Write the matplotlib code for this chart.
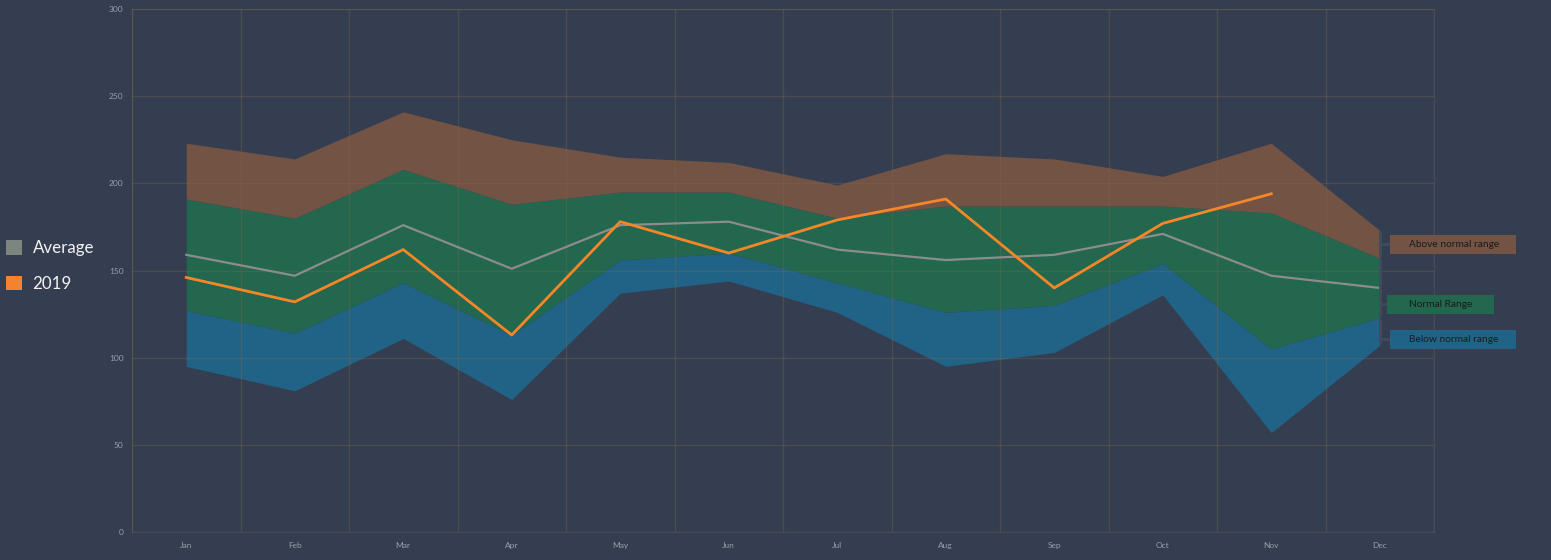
import matplotlib
matplotlib.use('Agg')
import numpy as np
from matplotlib import pyplot as plt
from matplotlib.patches import Patch, Rectangle

# ---- data ----
months = ['Jan', 'Feb', 'Mar', 'Apr', 'May', 'Jun',
          'Jul', 'Aug', 'Sep', 'Oct', 'Nov', 'Dec']
below_low = [95, 81, 111, 76, 137, 144, 126, 95, 103, 136, 57, 107]
below_high = [127, 114, 143, 113, 156, 160, 143, 126, 130, 154, 105, 123]
normal_high = [191, 180, 208, 188, 195, 195, 180, 187, 187, 187, 183, 157]
above_high = [223, 214, 241, 225, 215, 212, 199, 217, 214, 204, 223, 173]
average = [159, 147, 176, 151, 176, 178, 162, 156, 159, 171, 147, 140]
y2019 = [146, 132, 162, 113, 178, 160, 179, 191, 140, 177, 194, np.nan]

band_labels = ['Above normal range', 'Normal Range', 'Below normal range']

# ---- colours ----
BG = '#343e50'
GRID = '#7a6a50'
BROWN = '#735344'
GREEN = '#22674e'
BLUE = '#216386'
AVG = '#8c8c8c'
ORANGE = '#f58728'
TICK = '#9a9ea8'
LEADER = '#404b5c'

plt.rcParams['font.family'] = ['Lato', 'DejaVu Sans']

fig = plt.figure(figsize=(15.51, 5.6), dpi=100, facecolor=BG)
ax = fig.add_axes([132 / 1551, 1 - 532 / 560, (1434 - 132) / 1551, (532 - 9) / 560])
ax.set_facecolor(BG)

x = np.arange(len(months))

# stacked bands
ax.fill_between(x, below_low, below_high, color=BLUE, linewidth=0, zorder=1)
ax.fill_between(x, below_high, normal_high, color=GREEN, linewidth=0, zorder=1)
ax.fill_between(x, normal_high, above_high, color=BROWN, linewidth=0, zorder=1)

# lines
ax.plot(x, average, color=AVG, linewidth=1.6, zorder=2)
ax.plot(x, y2019, color=ORANGE, linewidth=2.0, zorder=2)

# axes styling
ax.set_xlim(-0.5, 11.5)
ax.set_ylim(0, 300)
ax.set_yticks(np.arange(0, 301, 50))
ax.set_xticks(x)
ax.set_xticklabels(months)
ax.set_xticks(np.arange(-0.5, 12, 1), minor=True)
ax.set_axisbelow('line')
ax.grid(axis='y', which='major', color=GRID, alpha=0.33, linewidth=1)
ax.grid(axis='x', which='minor', color=GRID, alpha=0.33, linewidth=1)
ax.tick_params(axis='both', which='both', length=0, colors=TICK, labelsize=6)
ax.tick_params(axis='y', pad=6)
ax.tick_params(axis='x', pad=7)
for sp in ax.spines.values():
    sp.set_color(GRID)
    sp.set_alpha(0.33)

# band labels on the right, with bracket leaders at Dec
last = len(months) - 1
bands = [(normal_high[last], above_high[last], BROWN, 165.0, 11.09, 1.17),
         (below_high[last], normal_high[last], GREEN, 130.5, 11.07, 0.98),
         (below_low[last], below_high[last], BLUE, 110.5, 11.09, 1.17)]
h = 10.8
for label, (lo, hi, col, yc, x0, w) in zip(band_labels, bands):
    ax.plot([last, last], [lo + 0.6, hi - 0.6], color=LEADER, linewidth=2,
            clip_on=False, zorder=3, solid_capstyle='butt')
    ax.plot([last, x0], [yc, yc], color=LEADER, linewidth=2,
            clip_on=False, zorder=3, solid_capstyle='butt')
    ax.add_patch(Rectangle((x0, yc - h / 2), w, h, facecolor=col,
                           edgecolor='none', clip_on=False, zorder=3))
    ax.text(11.27, yc, label, fontsize=7.3, color='#1b1b1b',
            va='center', ha='left', zorder=4, clip_on=False)

# legend on the left
handles = [Patch(facecolor='#7d857f', edgecolor='none'),
           Patch(facecolor='#f5822f', edgecolor='none')]
leg = fig.legend(handles, ['Average', '2019'], loc='center left',
                 bbox_to_anchor=(6 / 1551, 1 - 266 / 560), frameon=False,
                 fontsize=12.2, handlelength=0.95, handleheight=0.95,
                 handletextpad=0.62, labelspacing=1.15, borderpad=0,
                 borderaxespad=0)
for t in leg.get_texts():
    t.set_color('#f2f2f2')

fig.savefig('out.png', dpi=100, facecolor=BG)
